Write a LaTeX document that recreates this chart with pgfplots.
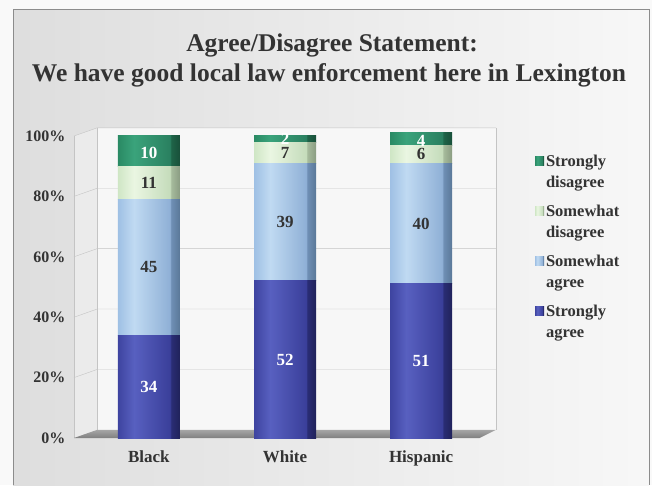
\documentclass[border=0pt]{standalone}
\usepackage{fontspec}
\setmainfont{Liberation Serif}
\usepackage{pgfplots}
\pgfplotsset{compat=1.18}

\definecolor{txt}{HTML}{333333}
\definecolor{gridc}{HTML}{C4C4C4}
% strongly agree
\definecolor{saA}{HTML}{3E44A0}\definecolor{saB}{HTML}{5860C0}\definecolor{saC}{HTML}{3A3F9A}\definecolor{saD}{HTML}{2A2D75}\definecolor{saE}{HTML}{20225A}
% somewhat agree
\definecolor{waA}{HTML}{9FC0E4}\definecolor{waB}{HTML}{C0DAF2}\definecolor{waC}{HTML}{8FB0D6}\definecolor{waD}{HTML}{6F8FB5}\definecolor{waE}{HTML}{5A7898}
% somewhat disagree
\definecolor{wdA}{HTML}{CFE6C5}\definecolor{wdB}{HTML}{EAF6E2}\definecolor{wdC}{HTML}{C5DCBB}\definecolor{wdD}{HTML}{A6BB9C}\definecolor{wdE}{HTML}{8A9C82}
% strongly disagree
\definecolor{sdA}{HTML}{2A8A64}\definecolor{sdB}{HTML}{3AA37B}\definecolor{sdC}{HTML}{2A8060}\definecolor{sdD}{HTML}{1F6448}\definecolor{sdE}{HTML}{184F39}

\pgfdeclarehorizontalshading{cylSA}{100bp}{color(0bp)=(saA); color(25bp)=(saA); color(38bp)=(saB); color(67bp)=(saC); color(68bp)=(saD); color(75bp)=(saE); color(100bp)=(saE)}
\pgfdeclarehorizontalshading{cylWA}{100bp}{color(0bp)=(waA); color(25bp)=(waA); color(38bp)=(waB); color(67bp)=(waC); color(68bp)=(waD); color(75bp)=(waE); color(100bp)=(waE)}
\pgfdeclarehorizontalshading{cylWD}{100bp}{color(0bp)=(wdA); color(25bp)=(wdA); color(38bp)=(wdB); color(67bp)=(wdC); color(68bp)=(wdD); color(75bp)=(wdE); color(100bp)=(wdE)}
\pgfdeclarehorizontalshading{cylSD}{100bp}{color(0bp)=(sdA); color(25bp)=(sdA); color(38bp)=(sdB); color(67bp)=(sdC); color(68bp)=(sdD); color(75bp)=(sdE); color(100bp)=(sdE)}

\pgfplotsset{frame/.style={at={(74pt,47pt)}, anchor=south west, scale only axis,
  width=422pt, height=302pt, xmin=-0.55, xmax=2.55, ymin=0, ymax=100, clip=false},
  bars/.style={frame, hide axis, ybar stacked, bar width=62pt},
  pSA/.style={draw=none, shade, shading=cylSA},
  pWA/.style={draw=none, shade, shading=cylWA},
  pWD/.style={draw=none, shade, shading=cylWD},
  pSD/.style={draw=none, shade, shading=cylSD}}

\begin{document}
\begin{tikzpicture}
\useasboundingbox (0,0) rectangle (652pt,485pt);
\fill[white!95!gray] (0,0) rectangle (652pt,485pt);
\shade[left color=black!13, right color=black!3] (13pt,0) rectangle (649pt,475pt);
\draw[black!45, line width=1pt] (13pt,0) -- (13pt,475pt) -- (649pt,475pt) -- (649pt,0);

\node[anchor=base, text=txt, font=\bfseries\fontsize{25.5}{30}\selectfont] at (332pt,433pt) {Agree/Disagree Statement:};
\node[anchor=base, text=txt, font=\bfseries\fontsize{25.5}{30}\selectfont] at (329pt,403pt) {We have good local law enforcement here in Lexington};

% background walls, floor, ticks and legend
\begin{axis}[
  frame,
  xtick={0,1,2}, xticklabels={Black,White,Hispanic},
  ytick={0,20,40,60,80,100},
  yticklabel={\pgfmathprintnumber{\tick}\%},
  /pgf/number format/assume math mode=true,
  axis line style={draw=none}, major tick length=0pt,
  xticklabel style={font=\bfseries\fontsize{17}{19}\selectfont, text=txt, anchor=base, yshift=-24pt},
  yticklabel style={font=\bfseries\fontsize{16}{18}\selectfont, text=txt, anchor=east, xshift=-5pt},
  legend style={at={(1.092,0.945)}, anchor=north west, draw=none, fill=none,
    inner sep=0pt, row sep=12pt,
    font=\bfseries\fontsize{16.5}{21}\selectfont, text=txt,
    nodes={inner sep=2pt},
    cells={align=left, anchor=west}},
  legend image code/.code={\path[#1, draw=none] (0pt,6pt) rectangle (9pt,15pt);},
]
\addlegendimage{pSD}\addlegendentry{Strongly\\disagree}
\addlegendimage{pWD}\addlegendentry{Somewhat\\disagree}
\addlegendimage{pWA}\addlegendentry{Somewhat\\agree}
\addlegendimage{pSA}\addlegendentry{Strongly\\agree}
\addplot[draw=none, mark=none, forget plot] coordinates {(0,0)};
\fill[white!97!black] (axis cs:-0.38,2.7) -- (axis cs:2.55,2.7) -- (axis cs:2.55,102.7) -- (axis cs:-0.38,102.7) -- cycle;
\fill[white!92!black] (axis cs:-0.55,0) -- (axis cs:-0.38,2.7) -- (axis cs:-0.38,102.7) -- (axis cs:-0.55,100) -- cycle;
\draw[gridc] (axis cs:-0.55,20) -- (axis cs:-0.38,22.7) -- (axis cs:2.55,22.7);
\draw[gridc] (axis cs:-0.55,40) -- (axis cs:-0.38,42.7) -- (axis cs:2.55,42.7);
\draw[gridc] (axis cs:-0.55,60) -- (axis cs:-0.38,62.7) -- (axis cs:2.55,62.7);
\draw[gridc] (axis cs:-0.55,80) -- (axis cs:-0.38,82.7) -- (axis cs:2.55,82.7);
\draw[gridc] (axis cs:-0.55,100) -- (axis cs:-0.38,102.7) -- (axis cs:2.55,102.7);
\draw[gridc] (axis cs:-0.55,0) -- (axis cs:-0.55,100);
\draw[gridc] (axis cs:-0.38,2.7) -- (axis cs:-0.38,102.7);
\draw[gridc] (axis cs:2.55,2.7) -- (axis cs:2.55,102.7);
\shade[top color=black!35, bottom color=black!50] (axis cs:-0.55,0) -- (axis cs:2.43,0) -- (axis cs:2.55,2.7) -- (axis cs:-0.38,2.7) -- cycle;
\end{axis}

% Black
\begin{axis}[bars]
\addplot[pSA] coordinates {(0,34)};
\addplot[pWA] coordinates {(0,45)};
\addplot[pWD] coordinates {(0,11)};
\addplot[pSD] coordinates {(0,10)};
\end{axis}
% White
\begin{axis}[bars]
\addplot[pSA] coordinates {(1,52)};
\addplot[pWA] coordinates {(1,39)};
\addplot[pWD] coordinates {(1,7)};
\addplot[pSD] coordinates {(1,2)};
\end{axis}
% Hispanic
\begin{axis}[bars]
\addplot[pSA] coordinates {(2,51)};
\addplot[pWA] coordinates {(2,40)};
\addplot[pWD] coordinates {(2,6)};
\addplot[pSD] coordinates {(2,4)};
\end{axis}

\begin{axis}[frame, hide axis]
\addplot[draw=none, mark=none,
  nodes near coords, point meta=explicit symbolic,
  every node near coord/.append style={anchor=center, text=white, font=\bfseries\fontsize{17}{20}\selectfont}]
  coordinates {(0,17)[34] (1,26)[52] (2,25.5)[51] (0,94.5)[10] (1,99.2)[2] (2,98.5)[4]};
\addplot[draw=none, mark=none,
  nodes near coords, point meta=explicit symbolic,
  every node near coord/.append style={anchor=center, text=txt, font=\bfseries\fontsize{17}{20}\selectfont}]
  coordinates {(0,56.5)[45] (1,71.5)[39] (2,71)[40] (0,84.5)[11] (1,94.5)[7] (2,94)[6]};
\end{axis}
\end{tikzpicture}
\end{document}
